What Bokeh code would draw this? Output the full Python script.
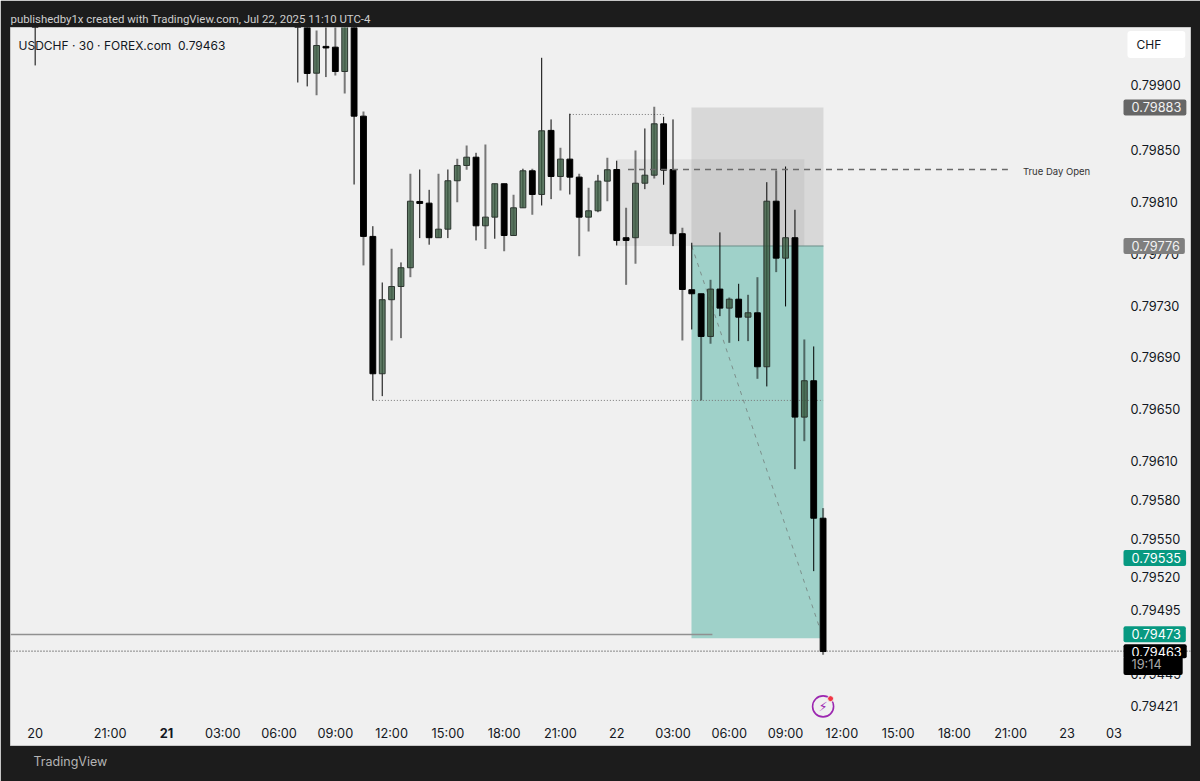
from bokeh.plotting import figure
from bokeh.models import (ColumnDataSource, Range1d, FixedTicker, NumeralTickFormatter,
                          Label, Span, Title)
from bokeh.core.properties import value
from bokeh.embed import file_html
from bokeh.resources import INLINE

bars = [-14] + list(range(14, 71))
opens = [.79980, .79965, .79980, .799095, .799302, .799296, .799108, .79955, .798763,
         .797834, .796773, .797345, .797447, .797592, .798104, .798091, .797824, .797890,
         .798264, .798382, .798446, .797916, .797983, .798241, .797841, .798055, .798341,
         .798158, .798653, .798297, .798431, .798292, .797983, .798032, .798261, .798351,
         .797824, .797824, .798245, .798307, .798704, .798351, .797855, .797422, .797391,
         .797061, .797427, .797280, .797349, .797210, .797244, .796827, .798106, .797666,
         .797824, .796438, .796719, .795657]
highs = [.79995, .79990, .79990, .799425, .79965, .79955, .79965, .79965, .798799,
         .797913, .797478, .797739, .797633, .798318, .798351, .798194, .798318, .798351,
         .798434, .798537, .798480, .798544, .798241, .798241, .798156, .798357, .798357,
         .799214, .798738, .798519, .798782, .798318, .798210, .798310, .798442, .798419,
         .798055, .798498, .798668, .798836, .798758, .798738, .797901, .797785, .797391,
         .797499, .797865, .797362, .797468, .797383, .797519, .798253, .798344, .798374,
         .798040, .797038, .796984, .795735]
lows = [.799155, .799023, .798993, .798925, .799065, .799078, .798939, .798235, .797610,
        .796567, .796600, .797030, .797048, .797519, .797821, .797770, .797824, .797821,
        .798098, .798349, .797803, .797736, .797816, .797720, .797841, .798055, .798001,
        .798073, .798122, .798189, .798158, .797681, .797872, .798021, .798106, .797764,
        .797460, .797623, .798199, .798282, .798233, .797759, .797030, .797115, .796567,
        .797005, .797218, .797012, .797025, .797025, .796734, .796675, .797558, .797293,
        .796036, .796252, .795248, .794602]
closes = [.79955, .79955, .799093, .799309, .799290, .799108, .79955, .798763, .797834,
          .796773, .797345, .797447, .797592, .798106, .798089, .797824, .797890, .798264,
          .798382, .798446, .797916, .797983, .798241, .797841, .798055, .798341, .798158,
          .798650, .798297, .798431, .798292, .797983, .798032, .798261, .798349, .797803,
          .797803, .798245, .798307, .798704, .798346, .797855, .797424, .797391, .797061,
          .797427, .797280, .797349, .797210, .797244, .796827, .798106, .797666, .797824,
          .796438, .796719, .795657, .794627]
gray_wick_bars = [16, 18, 19, 21, 24, 26, 29, 31, 32, 34, 36, 37, 39, 42, 44, 45, 47, 49, 50,
                  52, 55, 57, 58, 60, 62, 63, 65, 68, 70]

price_ticks = [.79900, .79850, .79810, .79770, .79730, .79690, .79650, .79610, .79580, .79550,
               .79520, .79495, .79445, .79421]
time_ticks = [-14, -6, 6, 12, 18, 24, 30, 36, 42, 48, 54, 60, 66, 72, 78, 84, 90, 96, 101]
time_labels = ["20", "21:00", "03:00", "06:00", "09:00", "12:00", "15:00", "18:00", "21:00", "22",
               "03:00", "06:00", "09:00", "12:00", "15:00", "18:00", "21:00", "23", "03"]

tp_price, entry_price, stop_price, last_price = .79473, .79776, .79883, .79463
true_day_open = .798351
swing_high, swing_low, old_level = .798776, .796567, .794759

FONT = "Inter"
TICK_SIZE = "12.75px"
p = figure(width=1200, height=781, output_backend="svg", toolbar_location=None,
           x_range=Range1d(-16.63, 109.17), y_range=Range1d(.793901, .799448),
           y_axis_location="right", min_border_left=10, min_border_right=10,
           min_border_top=27, min_border_bottom=36,
           background_fill_color="#f0f0f0", border_fill_color="#1c1c1c",
           outline_line_color="#c9c9c9", outline_line_width=1)
p.grid.visible = False

p.title = Title(text="publishedby1x created with TradingView.com, Jul 22, 2025 11:10 UTC-4",
                text_font="Roboto", text_font_size="11.4px", text_font_style="normal",
                text_color="#cfcfcf", align="left", offset=0, standoff=3)
p.add_layout(Title(text="TradingView", text_font=FONT, text_font_size="12.5px",
                   text_font_style="normal", text_color="#b4b4b4", align="left",
                   offset=23, standoff=12), "below")

yax = p.yaxis[0]
yax.ticker = FixedTicker(ticks=price_ticks)
yax.formatter = NumeralTickFormatter(format="0.00000")
yax.major_label_standoff = -66
xax = p.xaxis[0]
xax.ticker = FixedTicker(ticks=time_ticks)
xax.major_label_overrides = dict(zip(time_ticks, time_labels))
xax.major_label_standoff = -26
for ax in (xax, yax):
    ax.axis_line_color = None
    ax.major_tick_line_color = None
    ax.minor_tick_line_color = None
    ax.major_label_text_font = FONT
    ax.major_label_text_font_size = TICK_SIZE
    ax.major_label_text_color = "#131722"

up = [c >= o for o, c in zip(opens, closes)]
gray = [b in gray_wick_bars for b in bars]
def sel(flags):
    return ColumnDataSource(dict(
        x=[b for b, f in zip(bars, flags) if f],
        o=[v for v, f in zip(opens, flags) if f],
        h=[v for v, f in zip(highs, flags) if f],
        l=[v for v, f in zip(lows, flags) if f],
        c=[v for v, f in zip(closes, flags) if f]))

# position tool, under the candles
p.quad(left=[55.97], right=[70.04], top=[stop_price], bottom=[entry_price],
       fill_color="#787878", fill_alpha=0.2, line_color=None)
p.quad(left=[55.97], right=[70.04], top=[entry_price], bottom=[tp_price],
       fill_color="#089981", fill_alpha=0.35, line_color=None)
p.quad(left=[48], right=[68], top=[.79843], bottom=[entry_price],
       fill_color="#787878", fill_alpha=0.13, line_color=None)
p.segment([55.97], [entry_price], [70.04], [entry_price], line_color="#6b8f88", line_width=1)
p.segment([56], [entry_price], [70], [tp_price], line_color="#7d8f8b", line_width=1, line_dash="4 5")
p.segment([43], [swing_high], [53], [swing_high], line_color="#777777", line_width=1, line_dash="1 2")
p.segment([22], [swing_low], [70], [swing_low], line_color="#777777", line_width=1, line_dash="1 2")

p.segment("x", "h", "x", "l", source=sel(gray), line_color="#000000", line_alpha=0.5, line_width=2)
p.segment("x", "h", "x", "l", source=sel([not g for g in gray]), line_color="#000000", line_width=1)
p.vbar("x", 0.62, "o", "c", source=sel(up), fill_color="#3b5c42", fill_alpha=0.8,
       line_color="#2c352f", line_width=1)
p.vbar("x", 0.62, "o", "c", source=sel([not u for u in up]), fill_color="#000000", line_color="#000000", line_width=1)

p.segment([49.2], [true_day_open], [89.7], [true_day_open], line_color="#6a6a6a", line_width=1.3, line_dash="6 5")
p.segment([-16.63], [old_level], [58.2], [old_level], line_color="#909090", line_width=1.6)
p.add_layout(Span(location=last_price, dimension="width", line_color="#222222", line_width=1, line_dash="1 2"))

p.text([0], [.793994], text=["21"], text_font=value(FONT), text_font_style="bold",
       text_font_size=TICK_SIZE, text_color="#131722", text_align="center", text_baseline="middle")
p.text([91.3], [.798336], text=["True Day Open"], text_font=value(FONT), text_font_size="9.5px",
       text_color="#333333", text_align="left", text_baseline="middle")

# alert icon
p.scatter([70], [.794203], size=21, marker="circle", fill_color=None, line_color="#9c27b0", line_width=1.6)
p.text([70], [.794203], text=["\u26a1"], text_font=value("DejaVu Sans"), text_font_size="13px",
       text_color="#9c27b0", text_align="center", text_baseline="middle")
p.scatter([70.8], [.794263], size=6, marker="circle", fill_color="#f23645", line_color="#f0f0f0", line_width=1)

def tag(text, price, bg, color="#ffffff", off=0, pad=(8, 5, 3, 3)):
    p.add_layout(Label(x=1113, x_units="screen", y=price, y_units="data", y_offset=off, text=text,
                       text_font=FONT, text_font_size=TICK_SIZE, text_color=color, text_baseline="middle",
                       background_fill_color=bg, border_radius=2, padding=pad))

tag("0.79883", stop_price, "#666666", "#f2f2f2")
tag("0.79776", entry_price, "#7f7f7f", "#f2f2f2")
tag("0.79535", .79535, "#089981")
tag("0.79473", tp_price, "#089981", off=4)
tag("0.79463", last_price, "#000000", pad=(8, 5, 3, 1))
tag("19:14", .794519, "#000000", "#a8a8a8", pad=(8, 21, 1, 3))

p.add_layout(Label(x=1117, x_units="screen", y=.799317, y_units="data", text="CHF", text_font=FONT,
                   text_font_size="12px", text_color="#131722", text_baseline="middle",
                   background_fill_color="#ffffff", border_radius=3, padding=(9, 24, 6, 6)))
p.add_layout(Label(x=8, x_units="screen", y=.799309, y_units="data",
                   text="USDCHF \u00b7 30 \u00b7 FOREX.com\u00a0\u00a00.79463",
                   text_font=FONT, text_font_size="12px", text_color="#131722", text_baseline="middle"))

open("out.html", "w").write(file_html(p, INLINE))
